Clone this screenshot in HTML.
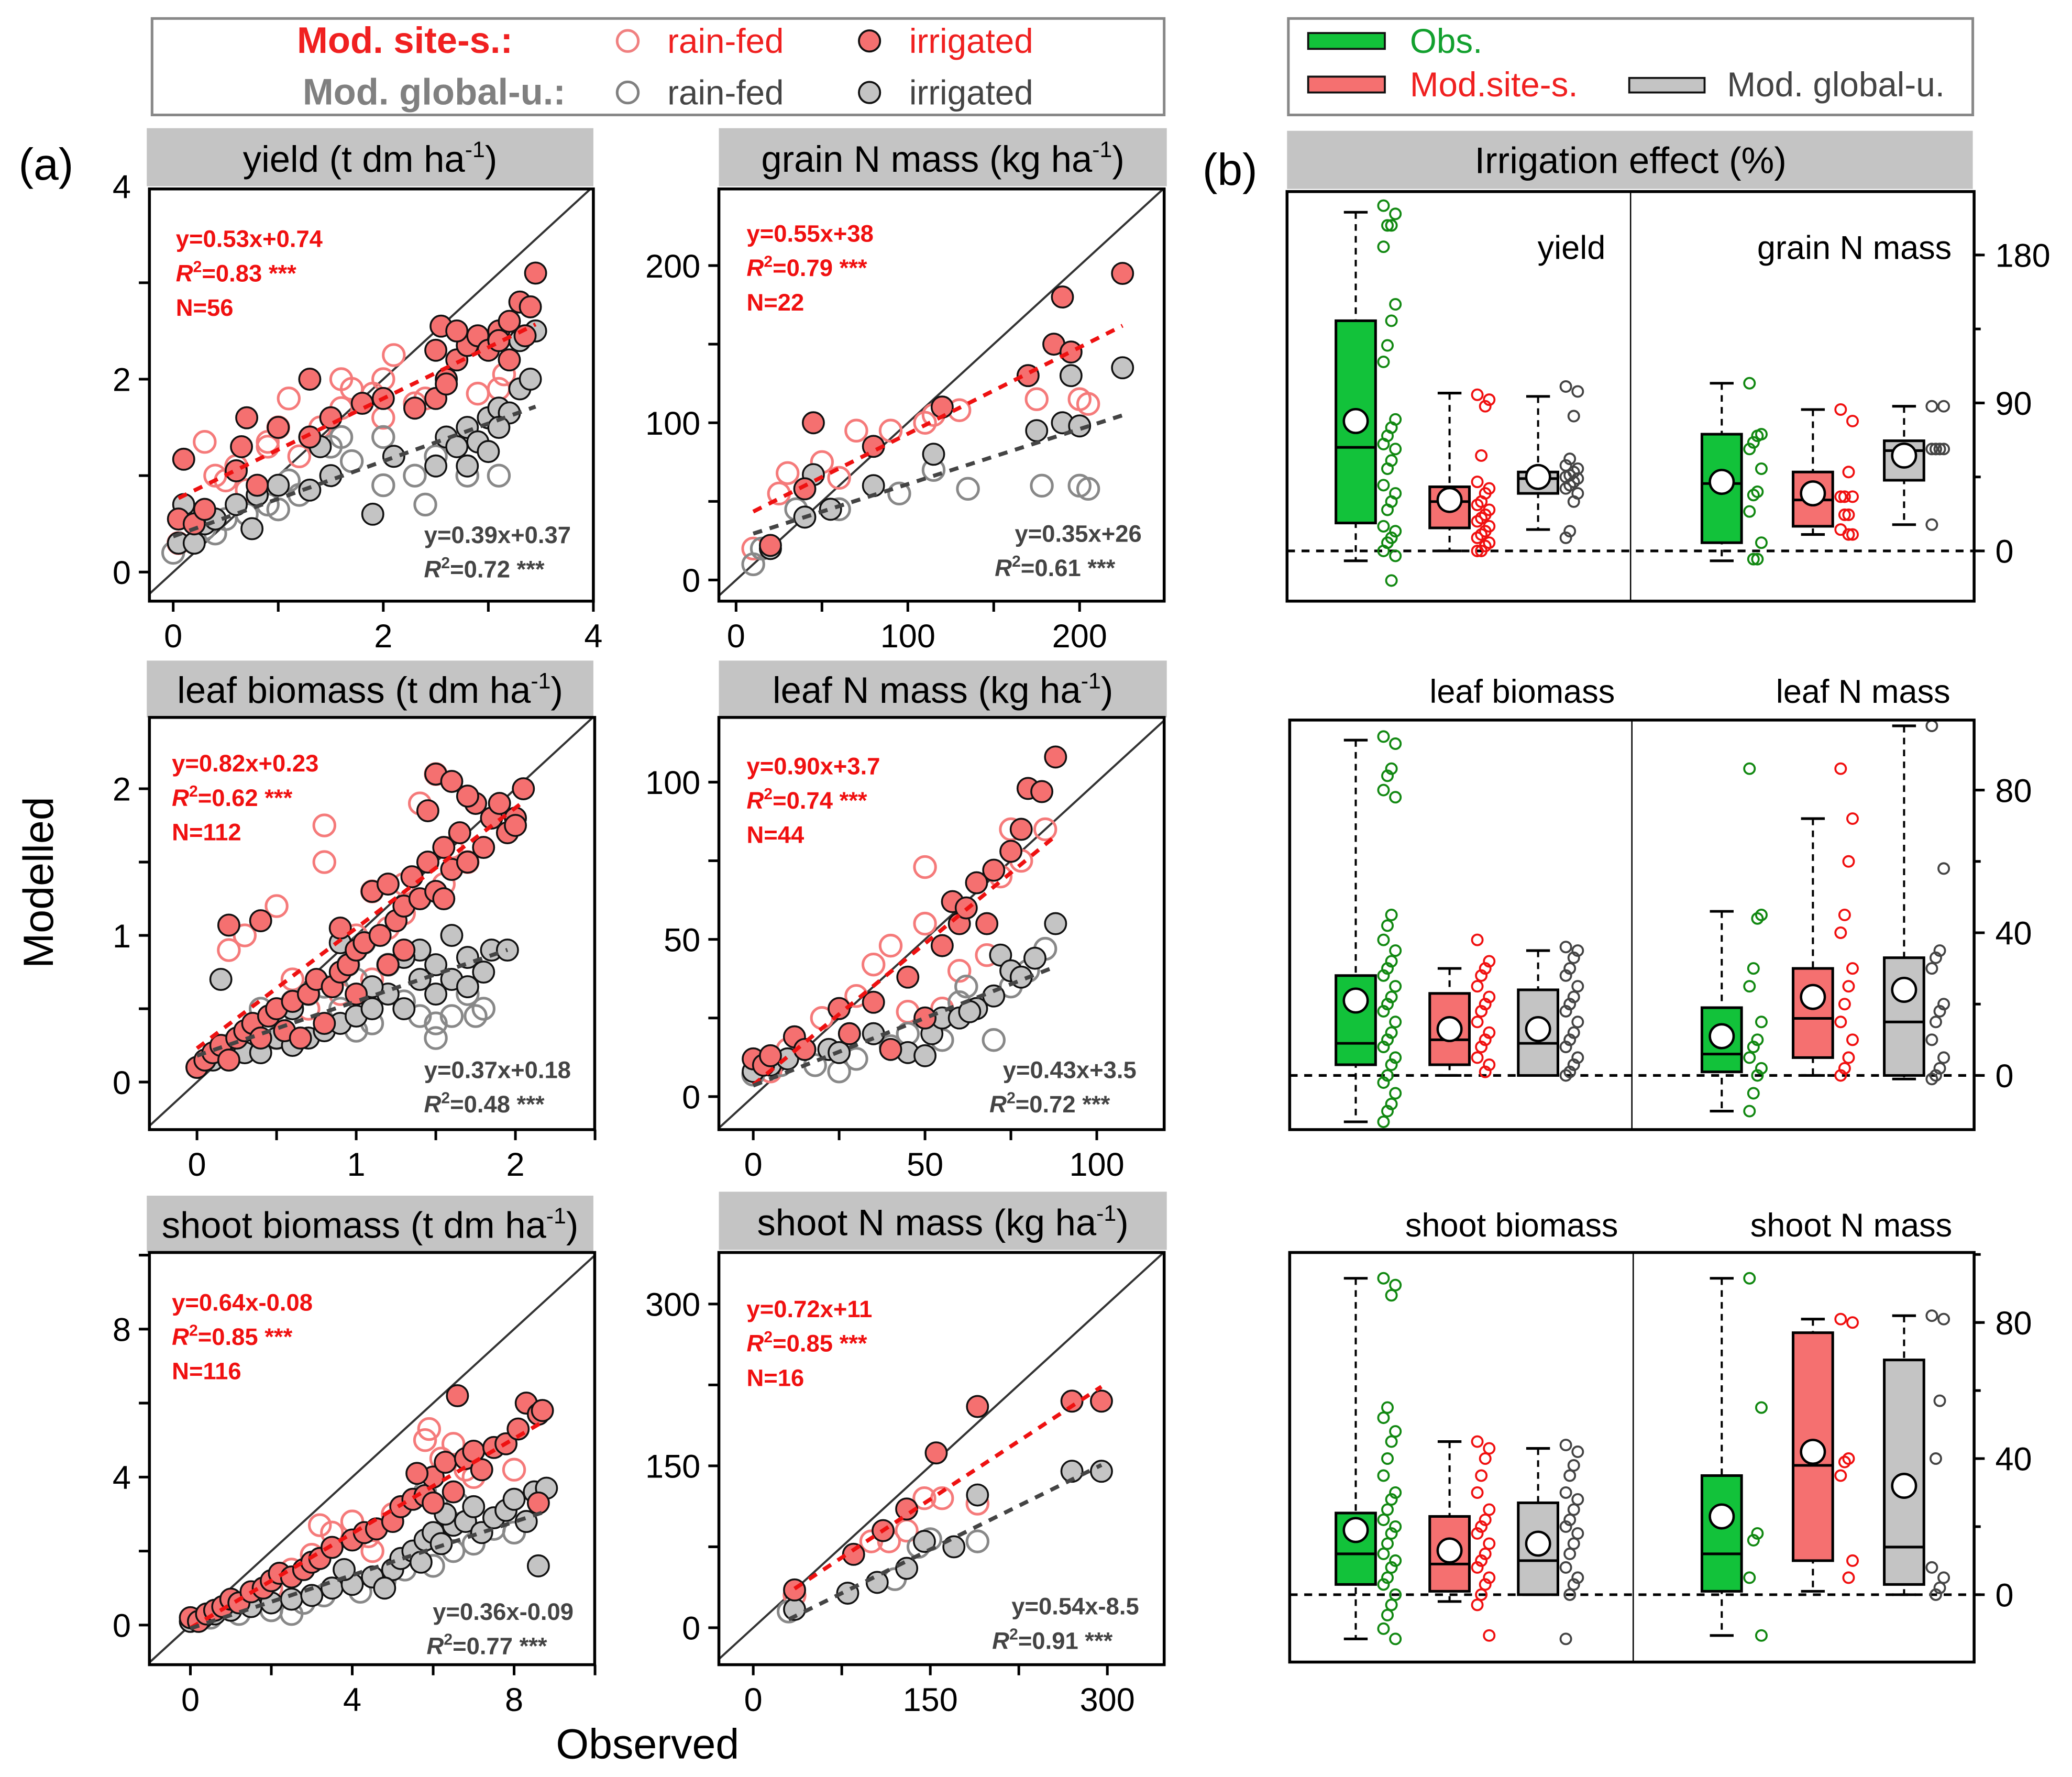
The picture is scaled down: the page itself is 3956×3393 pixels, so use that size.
<!DOCTYPE html>
<html><head><meta charset="utf-8"><style>
html,body{margin:0;padding:0;background:#fff}
svg{display:block;font-family:"Liberation Sans",Arial,sans-serif}
</style></head><body>
<svg id="fig" xmlns="http://www.w3.org/2000/svg" width="3956" height="3393" viewBox="0 0 1568 1345">
<rect x="0" y="0" width="1568" height="1345" fill="#fff"/>
<!-- legends -->
<g>
<rect x="115" y="14" width="766" height="73" fill="none" stroke="#888" stroke-width="2"/>
<text x="388" y="40" text-anchor="end" font-size="28" font-weight="bold" fill="#f02020">Mod. site-s.:</text>
<text x="428" y="79" text-anchor="end" font-size="28" font-weight="bold" fill="#808080">Mod. global-u.:</text>
<circle cx="475" cy="31" r="8" fill="none" stroke="#f08080" stroke-width="2"/>
<text x="505" y="40" font-size="26" fill="#f02020">rain-fed</text>
<circle cx="658" cy="31" r="8" fill="#f57070" stroke="#111" stroke-width="1.5"/>
<text x="688" y="40" font-size="26" fill="#f02020">irrigated</text>
<circle cx="475" cy="70" r="8" fill="none" stroke="#808080" stroke-width="2"/>
<text x="505" y="79" font-size="26" fill="#444">rain-fed</text>
<circle cx="658" cy="70" r="8" fill="#c4c4c4" stroke="#111" stroke-width="1.5"/>
<text x="688" y="79" font-size="26" fill="#444">irrigated</text>
</g>
<g>
<rect x="975" y="14" width="518" height="73" fill="none" stroke="#888" stroke-width="2"/>
<rect x="990" y="25" width="58" height="12" fill="#12c23a" stroke="#111" stroke-width="1.5"/>
<text x="1067" y="40" font-size="26" fill="#12a02e">Obs.</text>
<rect x="990" y="58" width="58" height="12" fill="#f57070" stroke="#111" stroke-width="1.5"/>
<text x="1067" y="73" font-size="26" fill="#f02020">Mod.site-s.</text>
<rect x="1233" y="59" width="57" height="11" fill="#c4c4c4" stroke="#111" stroke-width="1.5"/>
<text x="1307" y="73" font-size="26" fill="#444">Mod. global-u.</text>
</g>
<text x="14" y="136" font-size="34">(a)</text>
<text x="910" y="140" font-size="34">(b)</text>
<text transform="translate(40,668) rotate(-90)" text-anchor="middle" font-size="32">Modelled</text>
<text x="490" y="1331" text-anchor="middle" font-size="32">Observed</text>
<g id="scat"></g>
<g id="boxes"></g>
</svg>
<script>
// ---------------- scatter data ----------------
const yieldRedIrr=[[0.05,0.55],[0.1,1.17],[0.2,0.5],[0.3,0.65],[0.6,1.05],[0.65,1.3],[0.7,1.6],[0.8,0.9],[1.0,1.5],[1.3,1.4],[1.3,2.0],[1.5,1.6],[1.8,1.75],[2.0,1.8],[2.3,1.7],[2.5,2.3],[2.6,2.0],[2.55,2.55],[2.7,2.2],[2.8,2.35],[2.7,2.5],[2.9,2.45],[3.0,2.3],[3.1,2.5],[2.5,1.8],[3.2,2.6],[3.2,2.2],[3.3,2.8],[3.35,2.45],[3.4,2.75],[3.45,3.1],[2.6,1.95],[3.1,2.4]];
const yieldRedRain=[[0.05,0.3],[0.3,1.35],[0.4,1.0],[0.5,0.95],[0.7,0.85],[0.9,1.3],[0.9,1.35],[1.0,1.5],[1.1,1.8],[1.2,1.2],[1.4,1.5],[1.6,1.7],[1.6,2.0],[1.7,1.9],[1.9,1.85],[2.0,2.0],[2.1,2.25],[2.3,1.75],[2.4,1.8],[2.0,1.6],[3.1,1.9],[3.15,2.05],[2.9,1.85],[0.6,1.1]];
const yieldGrayIrr=[[0.05,0.3],[0.1,0.7],[0.2,0.3],[0.3,0.5],[0.4,0.55],[0.6,0.7],[0.75,0.45],[0.8,0.8],[1.0,0.9],[1.3,0.85],[1.5,1.0],[1.4,1.3],[1.9,0.6],[2.1,1.2],[2.5,1.1],[2.6,1.4],[2.7,1.3],[2.8,1.5],[2.9,1.35],[3.0,1.6],[3.0,1.25],[3.1,1.7],[3.2,1.65],[3.3,1.9],[3.3,2.4],[3.4,2.0],[3.45,2.5],[2.8,1.1],[3.1,1.5]];
const yieldGrayRain=[[0.0,0.2],[0.1,0.6],[0.3,0.45],[0.5,0.55],[0.7,0.6],[0.9,0.7],[1.0,0.65],[1.1,0.95],[1.2,0.8],[1.5,1.3],[1.6,1.4],[1.7,1.15],[2.0,0.9],[2.0,1.4],[2.3,1.0],[2.4,0.7],[2.5,1.2],[2.8,1.0],[3.1,1.0],[0.4,0.4]];
const grainRedIrr=[[20,22],[40,58],[45,100],[80,85],[120,110],[170,130],[185,150],[190,180],[195,145],[225,195]];
const grainRedRain=[[10,20],[25,55],[30,68],[50,75],[70,95],[90,95],[110,100],[115,105],[130,108],[175,115],[200,115],[205,112],[60,65]];
const grainGrayIrr=[[20,20],[40,40],[45,67],[55,45],[80,60],[115,80],[175,95],[190,100],[195,130],[200,98],[225,135]];
const grainGrayRain=[[10,10],[15,20],[35,45],[60,45],[95,55],[135,58],[178,60],[200,60],[205,58],[115,70]];
const leafRedIrr=[[0,0.1],[0.05,0.15],[0.1,0.2],[0.15,0.25],[0.2,0.15],[0.25,0.3],[0.3,0.35],[0.35,0.4],[0.4,0.3],[0.45,0.45],[0.5,0.5],[0.55,0.35],[0.6,0.55],[0.65,0.3],[0.7,0.6],[0.75,0.7],[0.8,0.4],[0.85,0.65],[0.9,0.75],[0.95,0.8],[1.0,0.9],[1.0,0.6],[1.05,0.95],[1.1,1.3],[1.15,1.0],[1.2,0.8],[1.25,1.1],[1.3,1.2],[1.35,1.4],[1.4,1.25],[1.45,1.5],[1.5,1.3],[1.55,1.6],[1.6,1.45],[1.65,1.7],[1.7,1.5],[1.75,1.9],[1.8,1.6],[1.85,1.8],[1.9,1.9],[1.95,1.7],[2.0,1.8],[2.05,2.0],[1.5,2.1],[1.6,2.05],[1.7,1.95],[2.0,1.75],[0.2,1.07],[0.4,1.1],[1.2,1.35],[1.55,1.25],[1.3,0.9],[0.9,1.05],[1.45,1.85]];
const leafRedRain=[[0.2,0.9],[0.3,1.0],[0.5,1.2],[0.8,1.5],[0.8,1.75],[1.0,1.0],[1.2,1.05],[1.3,1.15],[1.4,1.9],[1.5,2.1],[1.6,1.6],[1.7,1.5],[1.1,1.3],[0.3,0.25],[0.6,0.7],[0.7,0.5],[0.9,0.6],[1.1,0.7],[1.3,1.35],[1.55,1.35]];
const leafGrayIrr=[[0,0.1],[0.1,0.15],[0.2,0.15],[0.3,0.2],[0.4,0.2],[0.5,0.3],[0.6,0.25],[0.7,0.3],[0.8,0.35],[0.9,0.4],[1.0,0.45],[1.1,0.5],[1.2,0.6],[1.3,0.5],[1.4,0.7],[1.5,0.8],[1.6,0.7],[1.7,0.85],[1.8,0.75],[1.85,0.9],[1.95,0.9],[1.5,0.6],[1.6,1.0],[1.7,0.65],[1.4,0.9],[0.9,0.95],[0.15,0.7],[1.3,0.85],[1.1,0.65],[0.6,0.5]];
const leafGrayRain=[[0.3,0.3],[0.4,0.5],[0.5,0.45],[0.6,0.55],[0.7,0.6],[0.8,0.65],[0.9,0.5],[1.0,0.35],[1.0,0.7],[1.1,0.4],[1.2,0.8],[1.3,0.55],[1.4,0.45],[1.5,0.4],[1.5,0.3],[1.6,0.45],[1.7,0.6],[1.75,0.45],[1.8,0.5],[0.95,0.8],[1.05,0.95],[0.5,0.3],[0.2,0.25]];
const leafNRedIrr=[[0,12],[3,10],[5,13],[12,19],[15,15],[25,28],[28,20],[35,30],[40,15],[45,38],[50,25],[55,48],[60,55],[58,62],[62,60],[65,68],[68,55],[70,72],[75,78],[78,85],[80,98],[84,97],[88,108]];
const leafNRedRain=[[5,8],[10,15],[20,25],[30,32],[35,42],[40,48],[50,55],[50,73],[60,40],[68,45],[72,70],[75,85],[85,85],[78,75],[55,28],[45,27]];
const leafNGrayIrr=[[0,8],[5,10],[10,12],[15,15],[22,15],[25,14],[35,20],[45,14],[50,13],[52,20],[55,25],[60,25],[65,28],[70,32],[72,45],[75,40],[78,38],[82,44],[88,55],[63,27]];
const leafNGrayRain=[[0,7],[8,10],[18,10],[25,8],[30,12],[40,16],[45,20],[55,18],[62,35],[70,18],[75,35],[80,40],[85,47],[60,30]];
const shootRedIrr=[[0,0.2],[0.2,0.1],[0.4,0.3],[0.6,0.4],[0.8,0.5],[1.0,0.7],[1.2,0.6],[1.5,0.9],[1.8,1.0],[2.0,1.2],[2.2,1.4],[2.5,1.3],[2.8,1.5],[3.0,1.7],[3.2,1.8],[3.5,2.1],[4.0,2.3],[4.3,2.5],[4.6,2.6],[5.0,2.8],[5.2,3.2],[5.5,3.4],[5.8,3.5],[6.0,4.0],[6.3,4.4],[6.5,3.6],[6.8,4.5],[7.0,4.7],[7.2,4.2],[7.5,4.8],[7.8,4.9],[8.1,5.3],[8.3,6.0],[8.6,5.7],[8.7,5.8],[6.6,6.2],[6.0,3.3],[8.6,3.3],[5.6,4.1]];
const shootRedRain=[[1.0,0.5],[2.0,1.0],[2.5,1.5],[3.2,2.7],[3.5,2.5],[4.0,2.8],[4.5,2.0],[5.0,3.0],[5.8,5.0],[5.9,5.3],[6.2,4.5],[6.5,4.9],[7.0,4.0],[6.8,4.2],[8.0,4.2],[3.0,1.9],[4.4,2.4]];
const shootGrayIrr=[[0,0.1],[0.3,0.2],[0.6,0.3],[1.0,0.4],[1.5,0.5],[2.0,0.6],[2.5,0.7],[3.0,0.8],[3.5,1.0],[4.0,1.1],[4.5,1.3],[5.0,1.5],[5.2,1.8],[5.5,2.0],[5.8,2.3],[6.0,2.5],[6.2,2.2],[6.5,2.7],[6.8,2.8],[7.0,3.2],[7.2,2.5],[7.5,2.9],[7.8,3.1],[8.0,3.4],[8.3,2.8],[8.5,3.6],[8.8,3.7],[8.6,1.6],[6.3,3.0],[5.7,1.7],[4.8,1.0],[3.8,1.5]];
const shootGrayRain=[[0.5,0.2],[1.2,0.3],[2.0,0.4],[2.8,0.6],[3.3,0.8],[4.2,0.9],[4.8,1.2],[5.3,1.5],[6.0,1.6],[6.5,2.0],[7.0,2.2],[7.5,2.6],[8.0,2.5],[5.8,3.6],[6.6,3.3],[2.5,0.3]];
const shootNRedIrr=[[35,35],[85,68],[110,90],[130,110],[155,162],[190,205],[270,210],[295,210]];
const shootNRedRain=[[35,30],[100,80],[115,80],[130,90],[145,120],[160,120],[190,115]];
const shootNGrayIrr=[[35,17],[80,32],[105,42],[130,55],[145,80],[170,75],[190,123],[270,145],[295,145]];
const shootNGrayRain=[[30,15],[120,45],[140,75],[150,82],[190,80]];
// regression stats [slope, intercept]
const fitRed=[[0.53,0.74],[0.55,38],[0.82,0.23],[0.90,3.7],[0.64,-0.08],[0.72,11]];
const fitGray=[[0.39,0.37],[0.35,26],[0.37,0.18],[0.43,3.5],[0.36,-0.09],[0.54,-8.5]];
const statRed=[["y=0.53x+0.74","0.83","N=56"],["y=0.55x+38","0.79","N=22"],["y=0.82x+0.23","0.62","N=112"],["y=0.90x+3.7","0.74","N=44"],["y=0.64x-0.08","0.85","N=116"],["y=0.72x+11","0.85","N=16"]];
const statGray=[["y=0.39x+0.37","0.72"],["y=0.35x+26","0.61"],["y=0.37x+0.18","0.48"],["y=0.43x+3.5","0.72"],["y=0.36x-0.09","0.77"],["y=0.54x-8.5","0.91"]];
const xTickLabels=[[0,2,4],[0,100,200],[0,1,2],[0,50,100],[0,4,8],[0,150,300]];
const yTickLabels=[[0,2,4],[0,100,200],[0,1,2],[0,50,100],[0,4,8],[0,150,300]];
const titles=[["yield (t dm ha","-1",")"],["grain N mass (kg ha","-1",")"],["leaf biomass (t dm ha","-1",")"],["leaf N mass (kg ha","-1",")"],["shoot biomass (t dm ha","-1",")"],["shoot N mass (kg ha","-1",")"]];

// layout (pixel geometry)
const L=[
 {bx:[113,143,449,455],tb:[111,97,449,141],xa:[0,131,4,449],ya:[0,433,4,141],xm:1,ym:1,vmin:-0.3,vmax:4.2,sx:[133,187],gx:[432,411]},
 {bx:[544,143,881,455],tb:[544,97,883,141],xa:[0,557,200,817],ya:[0,439,200,201],xm:50,ym:50,vmin:-20,vmax:260,sx:[565,183],gx:[864,410]},
 {bx:[113,543,450,855],tb:[111,500,449,543],xa:[0,149,2,390],ya:[0,819,2,597],xm:0.5,ym:0.5,vmin:-0.5,vmax:2.6,sx:[130,584],gx:[432,816]},
 {bx:[544,543,881,855],tb:[544,500,883,543],xa:[0,570,100,830],ya:[0,830,100,592],xm:25,ym:25,vmin:-20,vmax:130,sx:[565,586],gx:[860,816]},
 {bx:[113,948,450,1260],tb:[111,905,449,948],xa:[0,144,8,389],ya:[0,1230,8,1006],xm:2,ym:2,vmin:-2,vmax:11,sx:[130,992],gx:[434,1226]},
 {bx:[544,948,881,1260],tb:[544,902,883,946],xa:[0,570,300,838],ya:[0,1232,300,987],xm:75,ym:75,vmin:-40,vmax:380,sx:[565,997],gx:[862,1222]}
];
const series=[
 [yieldRedRain,yieldGrayRain,yieldGrayIrr,yieldRedIrr],
 [grainRedRain,grainGrayRain,grainGrayIrr,grainRedIrr],
 [leafRedRain,leafGrayRain,leafGrayIrr,leafRedIrr],
 [leafNRedRain,leafNGrayRain,leafNGrayIrr,leafNRedIrr],
 [shootRedRain,shootGrayRain,shootGrayIrr,shootRedIrr],
 [shootNRedRain,shootNGrayRain,shootNGrayIrr,shootNRedIrr]
];
const styleKeys=["red-rainfed","gray-rainfed","gray-irrigated","red-irrigated"];
const NS="http://www.w3.org/2000/svg";
function mk(tag,attrs,parent){const e=document.createElementNS(NS,tag);for(const k in attrs)e.setAttribute(k,attrs[k]);parent.appendChild(e);return e;}
const scat=document.getElementById('scat');
L.forEach((p,i)=>{
 const g=mk('g',{},scat);
 
 
 const X=v=>p.xa[1]+(v-p.xa[0])*(p.xa[3]-p.xa[1])/(p.xa[2]-p.xa[0]);
 const Y=v=>p.ya[1]+(v-p.ya[0])*(p.ya[3]-p.ya[1])/(p.ya[2]-p.ya[0]);
 const [x0,y0,x1,y1]=p.bx;
 const tb=mk('rect',{x:p.tb[0],y:p.tb[1],width:p.tb[2]-p.tb[0],height:p.tb[3]-p.tb[1],fill:'#c4c4c4'},g);
 
 
 const tt=mk('text',{x:(p.tb[0]+p.tb[2])/2,y:p.tb[3]-11,'text-anchor':'middle','font-size':28},g);
 
 
 tt.appendChild(document.createTextNode(titles[i][0]));
 const sup=mk('tspan',{'font-size':17,dy:-11},tt);sup.textContent=titles[i][1];
 const cl=mk('tspan',{dy:11},tt);cl.textContent=titles[i][2];
 const cid='clip'+i;
 const cp=mk('clipPath',{id:cid},g);mk('rect',{x:x0,y:y0,width:x1-x0,height:y1-y0},cp);
 const cg=mk('g',{'clip-path':'url(#'+cid+')'},g);
 const dl=mk('line',{x1:X(p.vmin),y1:Y(p.vmin),x2:X(p.vmax),y2:Y(p.vmax),stroke:'#333','stroke-width':1.6},cg);
 
 
 series[i].forEach((s,k)=>{
  s.forEach(pt=>{
   let a={cx:X(pt[0]),cy:Y(pt[1]),r:8};
   if(k==0){a.fill='none';a.stroke='#f57a7a';a['stroke-width']=2;}
   else if(k==1){a.fill='none';a.stroke='#888';a['stroke-width']=2;}
   else if(k==2){a.fill='#c4c4c4';a.stroke='#111';a['stroke-width']=1.4;}
   else {a.fill='#f57070';a.stroke='#111';a['stroke-width']=1.4;}
   const c=mk('circle',a,g);
   
   
  });
 });
 const rr=series[i][0].concat(series[i][3]).map(q=>q[0]);
 const gg=series[i][1].concat(series[i][2]).map(q=>q[0]);
 const rmin=Math.min(...rr),rmax=Math.max(...rr),gmin=Math.min(...gg),gmax=Math.max(...gg);
 const fr=fitRed[i],fg=fitGray[i];
 const rl=mk('line',{x1:X(rmin),y1:Y(fr[0]*rmin+fr[1]),x2:X(rmax),y2:Y(fr[0]*rmax+fr[1]),stroke:'#ee1111','stroke-width':3,'stroke-dasharray':'7,6'},g);
 
 
 const gl=mk('line',{x1:X(gmin),y1:Y(fg[0]*gmin+fg[1]),x2:X(gmax),y2:Y(fg[0]*gmax+fg[1]),stroke:'#444','stroke-width':3,'stroke-dasharray':'7,6'},g);
 
 
 const fr2=mk('rect',{x:x0,y:y0,width:x1-x0,height:y1-y0,fill:'none',stroke:'#000','stroke-width':2.2},g);
 
 
 const xt=xTickLabels[i],yt=yTickLabels[i];
 for(let v=xt[0]-p.xm*4;v<=xt[2]+p.xm*4;v+=p.xm){const px=X(v);if(px<x0-0.5||px>x1+0.5)continue;mk('line',{x1:px,y1:y1,x2:px,y2:y1+8,stroke:'#000','stroke-width':2},g);}
 for(let v=yt[0]-p.ym*4;v<=yt[2]+p.ym*4;v+=p.ym){const py=Y(v);if(py<y0-0.5||py>y1+0.5)continue;mk('line',{x1:x0-8,y1:py,x2:x0,y2:py,stroke:'#000','stroke-width':2},g);}
 xt.forEach(v=>{const t=mk('text',{x:X(v),y:y1+35,'text-anchor':'middle','font-size':25},g);t.textContent=v;});
 yt.forEach(v=>{const t=mk('text',{x:x0-14,y:Y(v)+9,'text-anchor':'end','font-size':25},g);t.textContent=v;});
 const sr=statRed[i];
 const t1=mk('text',{x:p.sx[0],y:p.sx[1],'font-size':18,'font-weight':'bold',fill:'#f01010'},g);t1.textContent=sr[0];
 
 const t2=mk('text',{x:p.sx[0],y:p.sx[1]+26,'font-size':18,'font-weight':'bold',fill:'#f01010'},g);
 
 t2.innerHTML='<tspan font-style="italic">R</tspan><tspan font-size="12" dy="-7">2</tspan><tspan dy="7">='+sr[1]+' ***</tspan>';
 const t3=mk('text',{x:p.sx[0],y:p.sx[1]+52,'font-size':18,'font-weight':'bold',fill:'#f01010'},g);t3.textContent=sr[2];
 
 const sg=statGray[i];
 const t4=mk('text',{x:p.gx[0],y:p.gx[1],'font-size':18,'font-weight':'bold',fill:'#444','text-anchor':'end'},g);t4.textContent=sg[0];
 
 const t5=mk('text',{x:p.gx[0]-20,y:p.gx[1]+26,'font-size':18,'font-weight':'bold',fill:'#444','text-anchor':'end'},g);
 
 t5.innerHTML='<tspan font-style="italic">R</tspan><tspan font-size="12" dy="-7">2</tspan><tspan dy="7">='+sg[1]+' ***</tspan>';
});

// ---------------- box plot data [wlo,q1,med,q3,whi,mean] ----------------
const yieldBoxObs=[-6,17,63,140,206,79], yieldBoxSite=[0,14,30,39,96,31], yieldBoxGlob=[13,35,44,48,94,45];
const grainBoxObs=[-6,5,41,71,102,42], grainBoxSite=[10,15,31,48,86,35], grainBoxGlob=[16,43,61,67,88,58];
const leafBoxObs=[-13,3,9,28,94,21], leafBoxSite=[0,3,10,23,30,13], leafBoxGlob=[0,0,9,24,35,13];
const leafNBoxObs=[-10,1,6,19,46,11], leafNBoxSite=[0,5,16,30,72,22], leafNBoxGlob=[-1,0,15,33,98,24];
const shootBoxObs=[-13,3,12,24,93,19], shootBoxSite=[-2,1,9,23,45,13], shootBoxGlob=[0,0,10,27,43,15];
const shootNBoxObs=[-12,1,12,35,93,23], shootNBoxSite=[1,10,38,77,81,42], shootNBoxGlob=[0,3,14,69,82,32];
const yieldPtsObs=[210,205,198,198,185,150,140,125,115,80,75,70,65,62,55,50,40,35,30,25,15,12,8,5,0,-3,-18];
const yieldPtsSite=[95,92,88,58,42,38,35,30,28,25,22,20,18,15,12,10,8,5,3,0,0];
const yieldPtsGlob=[100,97,82,56,52,50,48,46,45,44,42,40,38,35,30,12,8];
const grainPtsObs=[102,71,70,66,62,50,36,34,24,5,-5,-5];
const grainPtsSite=[86,79,48,33,33,33,22,22,13,10,10];
const grainPtsGlob=[88,88,62,62,62,62,62,62,16];
const leafPtsObs=[95,93,86,84,80,78,45,42,38,35,32,30,28,25,22,20,18,15,12,10,8,5,3,0,-2,-5,-8,-10,-13];
const leafPtsSite=[38,32,30,28,25,22,20,18,15,12,10,8,5,3,1];
const leafPtsGlob=[36,35,33,30,28,25,22,20,18,15,12,10,8,5,3,1,0];
const leafNPtsObs=[86,45,44,30,25,15,10,8,5,2,0,-5,-10];
const leafNPtsSite=[86,72,60,45,40,30,25,20,15,10,5,2,0];
const leafNPtsGlob=[98,58,35,33,30,20,18,15,10,5,2,0,-1];
const shootPtsObs=[93,91,88,55,52,48,45,40,35,30,28,25,22,20,18,15,12,10,8,5,3,0,-3,-6,-10,-13];
const shootPtsSite=[45,43,40,35,30,25,22,20,18,15,12,10,8,5,3,0,-3,-12];
const shootPtsGlob=[44,42,38,35,30,28,25,22,20,18,15,12,8,5,3,0,-13];
const shootNPtsObs=[93,55,18,16,5,-12];
const shootNPtsSite=[81,80,40,39,35,10,5];
const shootNPtsGlob=[82,81,57,40,8,5,2,0];
const bTickLabels=[[0,90,180],[0,40,80],[0,40,80]];
const subTitles=[["yield","grain N mass"],["leaf biomass","leaf N mass"],["shoot biomass","shoot N mass"]];

const BL=[
 {fr:[974,145,1494,455],div:1234,ya:[0,417,90,305],title:true,st:[[1215,196,'end'],[1477,196,'end']]},
 {fr:[976,545,1494,855],div:1235,ya:[0,814,40,706],title:false,st:[[1152,532,'middle'],[1410,532,'middle']]},
 {fr:[976,948,1494,1258],div:1236,ya:[0,1207,40,1104],title:false,st:[[1144,936,'middle'],[1401,936,'middle']]}
];
const boxData=[[yieldBoxObs,yieldBoxSite,yieldBoxGlob,grainBoxObs,grainBoxSite,grainBoxGlob],[leafBoxObs,leafBoxSite,leafBoxGlob,leafNBoxObs,leafNBoxSite,leafNBoxGlob],[shootBoxObs,shootBoxSite,shootBoxGlob,shootNBoxObs,shootNBoxSite,shootNBoxGlob]];
const ptData=[[yieldPtsObs,yieldPtsSite,yieldPtsGlob,grainPtsObs,grainPtsSite,grainPtsGlob],[leafPtsObs,leafPtsSite,leafPtsGlob,leafNPtsObs,leafNPtsSite,leafNPtsGlob],[shootPtsObs,shootPtsSite,shootPtsGlob,shootNPtsObs,shootNPtsSite,shootNPtsGlob]];
const boxX=[1026,1097,1164,1303,1372,1441];
const fills=['#12c23a','#f57070','#c4c4c4'], ptCol=['#118811','#f01010','#444'], bNames=['obs','site-specific','global-uniform'];
const bg=document.getElementById('boxes');
BL.forEach((p,r)=>{
 const g=mk('g',{},bg);
 
 
 const Y=v=>p.ya[1]+(v-p.ya[0])*(p.ya[3]-p.ya[1])/(p.ya[2]-p.ya[0]);
 const [x0,y0,x1,y1]=p.fr;
 if(p.title){
  const tb=mk('rect',{x:974,y:99,width:519,height:44,fill:'#c4c4c4'},g);
  
  const t=mk('text',{x:1234,y:131,'text-anchor':'middle','font-size':28},g);t.textContent='Irrigation effect (%)';
  
 }
 p.st.forEach((s,k)=>{const t=mk('text',{x:s[0],y:s[1],'text-anchor':s[2],'font-size':25},g);t.textContent=subTitles[r][k];});
 const zl=mk('line',{x1:x0,y1:Y(0),x2:x1,y2:Y(0),stroke:'#000','stroke-width':2,'stroke-dasharray':'6,5'},g);
 
 mk('line',{x1:p.div,y1:y0,x2:p.div,y2:y1,stroke:'#000','stroke-width':1},g);
 boxData[r].forEach((b,j)=>{
  const cx=boxX[j],w=15,c=j%3;
  const grp=mk('g',{},g);
  
  
  mk('line',{x1:cx,y1:Y(b[4]),x2:cx,y2:Y(b[0]),stroke:'#000','stroke-width':1.6,'stroke-dasharray':'5,4'},grp);
  mk('line',{x1:cx-9,y1:Y(b[4]),x2:cx+9,y2:Y(b[4]),stroke:'#000','stroke-width':2},grp);
  mk('line',{x1:cx-9,y1:Y(b[0]),x2:cx+9,y2:Y(b[0]),stroke:'#000','stroke-width':2},grp);
  mk('rect',{x:cx-w,y:Y(b[3]),width:2*w,height:Y(b[1])-Y(b[3]),fill:fills[c],stroke:'#000','stroke-width':2},grp);
  mk('line',{x1:cx-w,y1:Y(b[2]),x2:cx+w,y2:Y(b[2]),stroke:'#000','stroke-width':2},grp);
  mk('circle',{cx:cx,cy:Y(b[5]),r:9,fill:'#fff',stroke:'#000','stroke-width':1.8},grp);
  ptData[r][j].forEach((v,k)=>{
   const c2=mk('circle',{cx:cx+21+((k*7)%4)*3,cy:Y(v),r:4,fill:'none',stroke:ptCol[c],'stroke-width':1.5},grp);
   
   
  });
 });
 const f=mk('rect',{x:x0,y:y0,width:x1-x0,height:y1-y0,fill:'none',stroke:'#000','stroke-width':2.2},g);
 
 bTickLabels[r].forEach(v=>{
  mk('line',{x1:x1,y1:Y(v),x2:x1+8,y2:Y(v),stroke:'#000','stroke-width':2},g);
  const t=mk('text',{x:x1+16,y:Y(v)+9,'font-size':25},g);t.textContent=v;
  
 });
 const st=bTickLabels[r][1]/2;
 for(let v=-st;v<=bTickLabels[r][2]+st;v+=st){const py=Y(v);if(py<y0||py>y1)continue;mk('line',{x1:x1,y1:py,x2:x1+5,y2:py,stroke:'#000','stroke-width':2},g);}
});
</script>
</body></html>
